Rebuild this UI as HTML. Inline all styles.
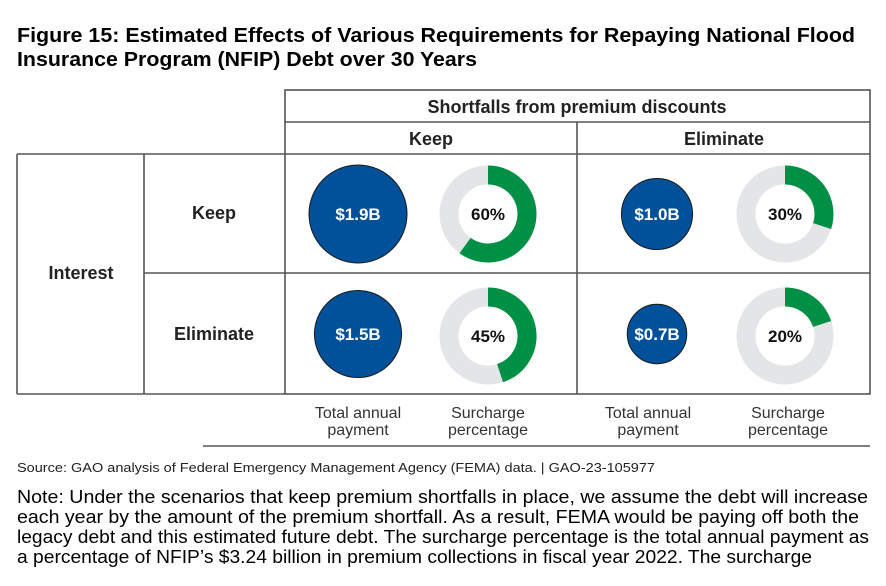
<!DOCTYPE html>
<html><head><meta charset="utf-8"><style>
body{margin:0;background:#fff;width:886px;height:586px;overflow:hidden;font-family:"Liberation Sans",Arial,sans-serif;}
</style></head><body>
<svg width="886" height="586" viewBox="0 0 886 586" style="position:absolute;left:0;top:0">
<text x="17" y="42" font-size="20" font-weight="bold" fill="#000" textLength="838" lengthAdjust="spacingAndGlyphs">Figure 15: Estimated Effects of Various Requirements for Repaying National Flood</text>
<text x="17" y="66" font-size="20" font-weight="bold" fill="#000" textLength="460" lengthAdjust="spacingAndGlyphs">Insurance Program (NFIP) Debt over 30 Years</text>
<g stroke="#555" stroke-width="1.6" fill="none">
<rect x="285" y="90" width="585" height="304"/>
<line x1="285" y1="122" x2="870" y2="122"/>
<line x1="17" y1="154" x2="870" y2="154"/>
<line x1="17" y1="154" x2="17" y2="394"/>
<line x1="17" y1="394" x2="285" y2="394"/>
<line x1="144" y1="154" x2="144" y2="394"/>
<line x1="577" y1="122" x2="577" y2="394"/>
<line x1="144" y1="273" x2="870" y2="273"/>
<line x1="203" y1="446" x2="870" y2="446"/>
</g>
<g font-size="18" font-weight="bold" fill="#222" text-anchor="middle">
<text x="577" y="113">Shortfalls from premium discounts</text>
<text x="431" y="145">Keep</text>
<text x="724" y="145">Eliminate</text>
<text x="214" y="219">Keep</text>
<text x="214" y="340">Eliminate</text>
<text x="81" y="279">Interest</text>
</g>
<g id="marks"></g>
<g font-size="16" fill="#333" text-anchor="middle">
<text x="358" y="418">Total annual</text><text x="358" y="435">payment</text>
<text x="488" y="418">Surcharge</text><text x="488" y="435">percentage</text>
<text x="648" y="418">Total annual</text><text x="648" y="435">payment</text>
<text x="788" y="418">Surcharge</text><text x="788" y="435">percentage</text>
</g>
<text x="17" y="472" font-size="13" fill="#222" textLength="638" lengthAdjust="spacingAndGlyphs">Source: GAO analysis of Federal Emergency Management Agency (FEMA) data.  |  GAO-23-105977</text>
<g font-size="18" fill="#000" lengthAdjust="spacingAndGlyphs">
<text x="17" y="503" textLength="851" lengthAdjust="spacingAndGlyphs">Note: Under the scenarios that keep premium shortfalls in place, we assume the debt will increase</text>
<text x="17" y="523" textLength="842" lengthAdjust="spacingAndGlyphs">each year by the amount of the premium shortfall. As a result, FEMA would be paying off both the</text>
<text x="17" y="543" textLength="852" lengthAdjust="spacingAndGlyphs">legacy debt and this estimated future debt. The surcharge percentage is the total annual payment as</text>
<text x="17" y="563" textLength="795" lengthAdjust="spacingAndGlyphs">a percentage of NFIP’s $3.24 billion in premium collections in fiscal year 2022. The surcharge</text>
</g>
</svg>
<script>
const payments=[1.9,1.0,1.5,0.7];
const paymentLabels=["$1.9B","$1.0B","$1.5B","$0.7B"];
const surcharges=[60,30,45,20];
const surchargeLabels=["60%","30%","45%","20%"];
const NS="http://www.w3.org/2000/svg";
const g=document.getElementById('marks');
const colX=[358,657],donutX=[488,785],rowY=[214,334];
function rScale(v){return 49*Math.sqrt(v/1.9);}
function mk(t,a){const e=document.createElementNS(NS,t);for(const k in a)e.setAttribute(k,a[k]);g.appendChild(e);return e;}
payments.forEach((v,i)=>{
 const cx=colX[i%2],cy=rowY[Math.floor(i/2)];
 const c=mk('circle',{cx:cx,cy:cy,r:rScale(v),fill:'#00509a',stroke:'#1a1a1a','stroke-width':1});
 
 
 const t=mk('text',{x:cx,y:cy+6,'text-anchor':'middle','font-size':17,'font-weight':'bold',fill:'#fff'});
 t.textContent=paymentLabels[i];
 
 
});
surcharges.forEach((p,i)=>{
 const cx=donutX[i%2],cy=rowY[Math.floor(i/2)]+(i>1?2:0);
 const R=39,w=19;
 const bg=mk('circle',{cx:cx,cy:cy,r:R,fill:'none',stroke:'#e4e5e6','stroke-width':w});
 
 
 const a=p/100*2*Math.PI;
 const x2=cx+R*Math.sin(a),y2=cy-R*Math.cos(a);
 const arc=mk('path',{d:`M${cx} ${cy-R} A${R} ${R} 0 ${p>50?1:0} 1 ${x2} ${y2}`,fill:'none',stroke:'#009045','stroke-width':w});
 
 
 const t=mk('text',{x:cx,y:cy+6,'text-anchor':'middle','font-size':17,'font-weight':'bold',fill:'#111'});
 t.textContent=surchargeLabels[i];
 
 
});
</script>
</body></html>
